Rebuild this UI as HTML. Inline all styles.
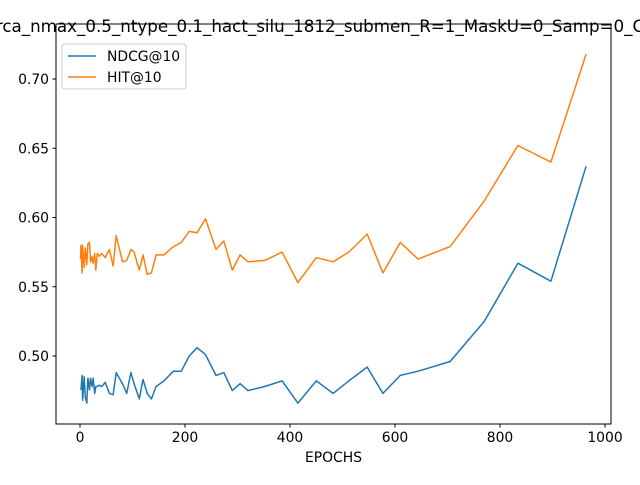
<!DOCTYPE html>
<html><head><meta charset="utf-8"><style>
body{margin:0;background:#fff;}
svg text{font-family:"DejaVu Sans","Liberation Sans",sans-serif;}
</style></head><body>
<svg id="chart" width="640" height="480" xmlns="http://www.w3.org/2000/svg">
<text x="320" y="32" font-size="16.7" text-anchor="middle">rca_nmax_0.5_ntype_0.1_hact_silu_1812_submen_R=1_MaskU=0_Samp=0_C</text>
<g id="plot"></g>
<rect x="56" y="24" width="555" height="400" fill="none" stroke="#000" stroke-width="1"/>
<text x="333.5" y="462" font-size="13.9" text-anchor="middle">EPOCHS</text>
<g>
<rect x="62" y="44" width="124" height="45" rx="3" fill="#fff" fill-opacity="0.8" stroke="#ccc"/>
<g><line x1="68" y1="56" x2="96" y2="56" stroke="#1f77b4" stroke-width="1.5"/><text x="107" y="61" font-size="13.9">NDCG@10</text></g>
<g><line x1="68" y1="77" x2="96" y2="77" stroke="#ff7f0e" stroke-width="1.5"/><text x="107" y="82" font-size="13.9">HIT@10</text></g>
</g>
</svg>
<script>
const epochs=[1,2,4,5,8,10,13,15,18,20,23,25,28,30,33,37,41,44,48,56,63,69,81,89,97,103,113,120,128,136,145,160,178,193,208,223,239,259,274,290,305,320,352,385,415,450,482,512,547,577,610,644,705,770,834,897,964];
const ndcg=[0.4755,0.486,0.468,0.485,0.470,0.466,0.484,0.4755,0.484,0.478,0.484,0.473,0.478,0.478,0.479,0.478,0.479,0.481,0.473,0.472,0.488,0.480,0.473,0.488,0.480,0.469,0.483,0.473,0.469,0.478,0.482,0.489,0.489,0.500,0.506,0.501,0.486,0.488,0.475,0.480,0.475,0.478,0.482,0.466,0.482,0.473,0.482,0.492,0.473,0.486,0.489,0.496,0.525,0.567,0.554,0.637];
const hit=[0.570,0.580,0.560,0.580,0.564,0.578,0.566,0.581,0.582,0.568,0.572,0.567,0.574,0.562,0.574,0.572,0.574,0.573,0.571,0.577,0.565,0.587,0.568,0.569,0.577,0.575,0.562,0.573,0.559,0.560,0.573,0.573,0.579,0.582,0.590,0.589,0.599,0.577,0.583,0.562,0.573,0.568,0.569,0.575,0.553,0.571,0.568,0.575,0.588,0.560,0.582,0.570,0.579,0.612,0.652,0.640,0.718];
const xTicks=[0,200,400,600,800,1000];
const yTicks=[0.50,0.55,0.60,0.65,0.70];
// ndcg has one fewer value than epochs (shared first x); align by dropping duplicate
const xs=v=>80+v*0.525;
const ys=v=>356-(v-0.5)*1385;
const NS="http://www.w3.org/2000/svg";
const plot=document.getElementById('plot');
function mk(t,a){const e=document.createElementNS(NS,t);for(const k in a)e.setAttribute(k,a[k]);plot.appendChild(e);return e;}
xTicks.forEach(t=>{
  const g=mk('g',{});
  
  
  const l=document.createElementNS(NS,'line');l.setAttribute('x1',xs(t));l.setAttribute('x2',xs(t));l.setAttribute('y1',424);l.setAttribute('y2',427.5);l.setAttribute('stroke','#000');g.appendChild(l);
  const tx=document.createElementNS(NS,'text');tx.setAttribute('x',xs(t));tx.setAttribute('y',442);tx.setAttribute('font-size','13.9');tx.setAttribute('text-anchor','middle');tx.textContent=t;g.appendChild(tx);
});
yTicks.forEach(t=>{
  const g=mk('g',{});
  
  
  const l=document.createElementNS(NS,'line');l.setAttribute('x1',52.5);l.setAttribute('x2',56);l.setAttribute('y1',ys(t));l.setAttribute('y2',ys(t));l.setAttribute('stroke','#000');g.appendChild(l);
  const tx=document.createElementNS(NS,'text');tx.setAttribute('x',49);tx.setAttribute('y',ys(t)+5);tx.setAttribute('font-size','13.9');tx.setAttribute('text-anchor','end');tx.textContent=t.toFixed(2);g.appendChild(tx);
});
function line(vals,color,name){
  const n=Math.min(vals.length,epochs.length);
  const off=epochs.length-n;
  let d='';
  for(let i=0;i<n;i++){d+=(i?'L':'M')+xs(epochs[i+off]).toFixed(1)+','+ys(vals[i]).toFixed(1);}
  const p=mk('path',{d:d,fill:'none',stroke:color,'stroke-width':1.5,'stroke-linejoin':'round'});
  
  
}
line(ndcg,'#1f77b4','ndcg-line');
line(hit,'#ff7f0e','hit-line');
</script>
</body></html>
